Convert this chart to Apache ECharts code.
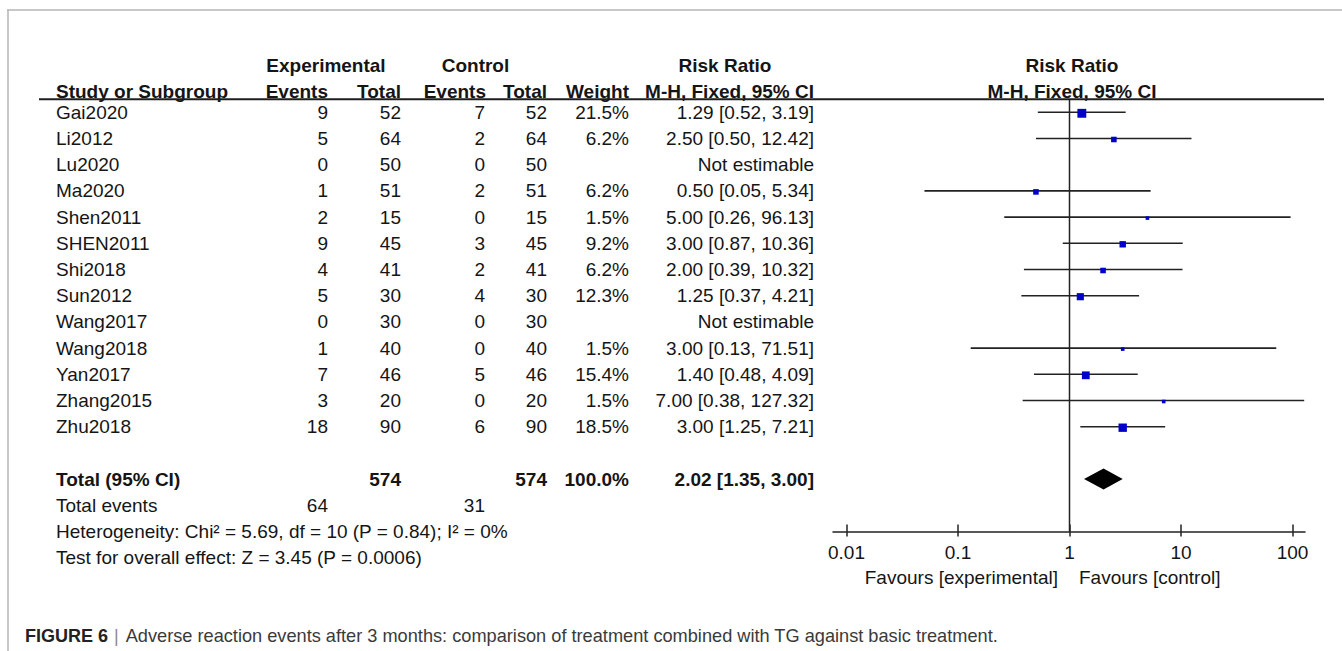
<!DOCTYPE html>
<html><head><meta charset="utf-8">
<script src="https://cdn.jsdelivr.net/npm/echarts@6/dist/echarts.min.js"></script>
<style>html,body{margin:0;padding:0;background:#fff}#c{width:1342px;height:651px}</style>
</head><body><div id="c"></div>
<script>
// ---------- data ----------
const studies    = ['Gai2020','Li2012','Lu2020','Ma2020','Shen2011','SHEN2011','Shi2018','Sun2012','Wang2017','Wang2018','Yan2017','Zhang2015','Zhu2018'];
const expEvents  = [9, 5, 0, 1, 2, 9, 4, 5, 0, 1, 7, 3, 18];
const expTotal   = [52, 64, 50, 51, 15, 45, 41, 30, 30, 40, 46, 20, 90];
const ctrlEvents = [7, 2, 0, 2, 0, 3, 2, 4, 0, 0, 5, 0, 6];
const ctrlTotal  = [52, 64, 50, 51, 15, 45, 41, 30, 30, 40, 46, 20, 90];
const weights    = [21.5, 6.2, null, 6.2, 1.5, 9.2, 6.2, 12.3, null, 1.5, 15.4, 1.5, 18.5];
const rr         = [1.29, 2.50, null, 0.50, 5.00, 3.00, 2.00, 1.25, null, 3.00, 1.40, 7.00, 3.00];
const ciLow      = [0.52, 0.50, null, 0.05, 0.26, 0.87, 0.39, 0.37, null, 0.13, 0.48, 0.38, 1.25];
const ciHigh     = [3.19, 12.42, null, 5.34, 96.13, 10.36, 10.32, 4.21, null, 71.51, 4.09, 127.32, 7.21];
const totalExp   = 574;
const totalCtrl  = 574;
const totalWeight = 100.0;
const pooled     = [2.02, 1.35, 3.00];   // estimate, low, high
const totalEventsExp = 64;
const totalEventsCtrl = 31;
const heterogeneityText = 'Heterogeneity: Chi\u00b2 = 5.69, df = 10 (P = 0.84); I\u00b2 = 0%';
const overallText = 'Test for overall effect: Z = 3.45 (P = 0.0006)';
const xTicks = [0.01, 0.1, 1, 10, 100];
const favoursLeft = 'Favours [experimental]';
const favoursRight = 'Favours [control]';
const captionLabel = 'FIGURE 6';
const captionText = 'Adverse reaction events after 3 months: comparison of treatment combined with TG against basic treatment.';

// ---------- layout ----------
const FONT = '"Liberation Sans", Arial, Helvetica, sans-serif';
const FS = 19;
const INK = '#151515';
const TOP = 33.7, ROWH = 26.2;
const colX = [56, 328, 401, 485, 547, 629, 814];
const colA = ['left','right','right','right','right','right','right'];
const TOTAL_ROW = 14;
const fmt2 = v => v.toFixed(2);

// ---------- table rows built from data ----------
const tableRows = [];
tableRows.push({row: -1.78, bold: true, cells: [
  {t:'Experimental', x:326, a:'center'}, {t:'Control', x:475.5, a:'center'},
  {t:'Risk Ratio', x:725, a:'center'}, {t:'Risk Ratio', x:1072, a:'center'}]});
tableRows.push({row: -0.79, bold: true, cells: [
  {t:'Study or Subgroup', x:colX[0], a:'left'}, {t:'Events', x:colX[1], a:'right'},
  {t:'Total', x:colX[2], a:'right'}, {t:'Events', x:colX[3]+1, a:'right'},
  {t:'Total', x:colX[4], a:'right'}, {t:'Weight', x:colX[5], a:'right'},
  {t:'M-H, Fixed, 95% CI', x:colX[6], a:'right'}, {t:'M-H, Fixed, 95% CI', x:1072, a:'center'}]});
studies.forEach((s, i) => {
  const vals = [s, String(expEvents[i]), String(expTotal[i]), String(ctrlEvents[i]), String(ctrlTotal[i]),
    weights[i] == null ? '' : weights[i].toFixed(1) + '%',
    rr[i] == null ? 'Not estimable' : fmt2(rr[i]) + ' [' + fmt2(ciLow[i]) + ', ' + fmt2(ciHigh[i]) + ']'];
  tableRows.push({row: i, bold: false, cells: vals.map((t, k) => ({t, x: colX[k], a: colA[k]}))});
});
tableRows.push({row: TOTAL_ROW, bold: true, cells: [
  {t:'Total (95% CI)', x:colX[0], a:'left'}, {t:String(totalExp), x:colX[2], a:'right'},
  {t:String(totalCtrl), x:colX[4], a:'right'}, {t:totalWeight.toFixed(1) + '%', x:colX[5], a:'right'},
  {t:fmt2(pooled[0]) + ' [' + fmt2(pooled[1]) + ', ' + fmt2(pooled[2]) + ']', x:colX[6], a:'right'}]});
tableRows.push({row: TOTAL_ROW + 1, bold: false, cells: [
  {t:'Total events', x:colX[0], a:'left'}, {t:String(totalEventsExp), x:colX[1], a:'right'},
  {t:String(totalEventsCtrl), x:colX[3], a:'right'}]});
tableRows.push({row: TOTAL_ROW + 2, bold: false, cells: [{t:heterogeneityText, x:colX[0], a:'left'}]});
tableRows.push({row: TOTAL_ROW + 3, bold: false, cells: [{t:overallText, x:colX[0], a:'left'}]});
tableRows.push({row: 17.75, bold: false, cells: [
  {t:favoursLeft, x:1058, a:'right'}, {t:favoursRight, x:1079, a:'left'}]});

const forestData = [];
studies.forEach((s, i) => { if (rr[i] != null) forestData.push([rr[i], i, ciLow[i], ciHigh[i], weights[i]]); });

const chart = echarts.init(document.getElementById('c'), null, {renderer: 'svg'});
const gridBase = {containLabel: false, outerBoundsMode: 'none'};
const forestH = ROWH * 19;   // rows -3 .. 16
const logAxisBase = {type: 'log', logBase: 10, min: xTicks[0], max: xTicks[xTicks.length - 1], splitLine: {show: false}};

chart.setOption({
  animation: false,
  backgroundColor: '#fff',
  title: {
    left: 25, top: 625, padding: 0,
    text: '{b|' + captionLabel + '}{s||}{t|' + captionText + '}',
    textStyle: {
      fontWeight: 'normal',
      rich: {
        b: {fontFamily: FONT, fontWeight: 'bold', fontSize: 18, color: '#222', lineHeight: 22},
        s: {fontFamily: FONT, fontWeight: 'normal', fontSize: 18, color: '#8a8a8a', padding: [0, 7, 0, 6], lineHeight: 22},
        t: {fontFamily: FONT, fontWeight: 'normal', fontSize: 18.2, color: '#3a3a3a', lineHeight: 22}
      }
    }
  },
  graphic: [
    {type: 'line', shape: {x1: 7, y1: 10, x2: 1342, y2: 10}, style: {stroke: '#b4b4b4', lineWidth: 1.5}, silent: true},
    {type: 'line', shape: {x1: 8, y1: 10, x2: 8, y2: 651}, style: {stroke: '#b4b4b4', lineWidth: 1.5}, silent: true}
  ],
  grid: [
    Object.assign({left: 0, width: 1342, top: TOP, height: ROWH * 21}, gridBase),
    Object.assign({left: 846.5, width: 446, top: TOP, height: forestH}, gridBase),
    Object.assign({left: 846.5, width: 446, top: TOP, height: forestH}, gridBase),
    Object.assign({left: 833, width: 472, top: TOP, height: forestH}, gridBase)
  ],
  xAxis: [
    {gridIndex: 0, type: 'value', min: 0, max: 1342, show: false},
    Object.assign({gridIndex: 1, position: 'bottom',
      axisLine: {show: false, onZero: false},
      axisTick: {show: true, inside: false, length: 5, lineStyle: {color: '#222', width: 1.5}},
      axisLabel: {show: true, margin: 11, fontSize: FS, fontFamily: FONT, color: INK,
        formatter: v => String(parseFloat(Number(v).toPrecision(6)))}
    }, logAxisBase),
    Object.assign({gridIndex: 2, position: 'bottom',
      axisLine: {show: false, onZero: false},
      axisTick: {show: true, inside: true, length: 7, lineStyle: {color: '#222', width: 1.5}},
      axisLabel: {show: false}
    }, logAxisBase),
    {gridIndex: 3, type: 'value', position: 'bottom', min: 0, max: 1, splitLine: {show: false},
      axisLine: {show: true, onZero: false, lineStyle: {color: '#222', width: 1.5}},
      axisTick: {show: false}, axisLabel: {show: false}}
  ],
  yAxis: [
    {gridIndex: 0, type: 'value', min: -3, max: 18, inverse: true, show: false},
    {gridIndex: 1, type: 'value', min: -3, max: 16, inverse: true, show: false},
    {gridIndex: 2, type: 'value', min: -3, max: 16, inverse: true, show: false},
    {gridIndex: 3, type: 'value', min: -3, max: 16, inverse: true, show: false}
  ],
  series: [
    { // table text
      type: 'custom', xAxisIndex: 0, yAxisIndex: 0, silent: true,
      data: tableRows.map(r => [0, r.row]),
      renderItem: (params, api) => {
        const r = tableRows[params.dataIndex];
        return {type: 'group', children: r.cells.map(c => {
          const p = api.coord([c.x, r.row]);
          return {type: 'text', style: {text: c.t, x: p[0], y: p[1], align: c.a, verticalAlign: 'middle',
            fontFamily: FONT, fontSize: FS, fontWeight: r.bold ? 'bold' : 'normal', fill: INK}};
        })};
      }
    },
    { // header rule
      type: 'custom', xAxisIndex: 0, yAxisIndex: 0, silent: true,
      data: [[39, -0.5, 1324]],
      renderItem: (params, api) => {
        const a = api.coord([api.value(0), api.value(1)]);
        const b = api.coord([api.value(2), api.value(1)]);
        return {type: 'line', shape: {x1: a[0], y1: a[1], x2: b[0], y2: b[1]}, style: {stroke: '#1e1e1e', lineWidth: 2}};
      }
    },
    { // line of no effect
      type: 'custom', xAxisIndex: 1, yAxisIndex: 1, silent: true, clip: false,
      data: [[1, -0.5, 16]],
      renderItem: (params, api) => {
        const a = api.coord([api.value(0), api.value(1)]);
        const b = api.coord([api.value(0), api.value(2)]);
        return {type: 'line', shape: {x1: a[0], y1: a[1], x2: b[0], y2: b[1]}, style: {stroke: '#222', lineWidth: 1.5}};
      }
    },
    { // study CIs and squares
      type: 'custom', xAxisIndex: 1, yAxisIndex: 1, silent: true, clip: false,
      data: forestData,
      renderItem: (params, api) => {
        const est = api.value(0), row = api.value(1), lo = api.value(2), hi = api.value(3), w = api.value(4);
        const a = api.coord([lo, row]), b = api.coord([hi, row]), c = api.coord([est, row]);
        const s = 1.55 * Math.sqrt(w) + 1.7;
        return {type: 'group', children: [
          {type: 'line', shape: {x1: a[0], y1: a[1], x2: b[0], y2: b[1]}, style: {stroke: '#222', lineWidth: 1.6}},
          {type: 'rect', shape: {x: c[0] - s / 2, y: c[1] - s / 2 + 1, width: s, height: s}, style: {fill: '#0000cc'}}
        ]};
      }
    },
    { // pooled diamond
      type: 'custom', xAxisIndex: 1, yAxisIndex: 1, silent: true, clip: false,
      data: [[pooled[0], TOTAL_ROW, pooled[1], pooled[2]]],
      renderItem: (params, api) => {
        const est = api.value(0), row = api.value(1), lo = api.value(2), hi = api.value(3);
        const pts = [api.coord([lo, row]), api.coord([est, row - 0.4]), api.coord([hi, row]), api.coord([est, row + 0.4])];
        return {type: 'polygon', shape: {points: pts}, style: {fill: '#000'}};
      }
    }
  ]
});
</script>
</body></html>
